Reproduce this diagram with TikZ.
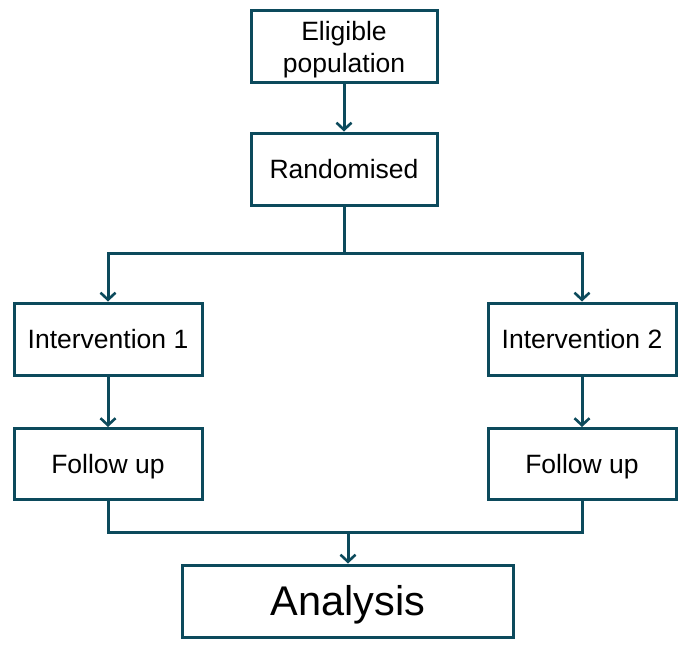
\documentclass[tikz,border=0pt]{standalone}
\usepackage{fontspec}
\setmainfont{Liberation Sans}
\usetikzlibrary{arrows.meta}
\definecolor{flowteal}{RGB}{12,74,92}
\tikzset{
    stagebox/.style={draw=flowteal, line width=3pt, fill=white, inner sep=0pt,
        minimum height=72pt, align=center, font=\fontsize{26.5}{32}\selectfont},
    oneline/.style={text height=19pt, text depth=0pt},
    link/.style={draw=flowteal, line width=3pt},
    arrowlink/.style={link, -{Straight Barb[length=7pt,width=15pt,line width=2.6pt]}}
}
\begin{document}
\begin{tikzpicture}[x=1pt,y=-1pt]
    \useasboundingbox (0,0) rectangle (694,651);

    % Top of the trial
    \node[stagebox, minimum width=186pt, text height=57.5pt, text depth=5.5pt] (elig) at (344,46) {Eligible\\population};
    \node[stagebox, oneline, minimum width=186pt] (rand) at (344,169) {Randomised};

    % Two arms
    \node[stagebox, oneline, minimum width=188pt] (int1) at (108,339) {Intervention 1};
    \node[stagebox, oneline, minimum width=188pt] (int2) at (582,339) {Intervention 2};
    \node[stagebox, oneline, minimum width=188pt, minimum height=71pt] (fu1) at (108,464) {Follow up};
    \node[stagebox, oneline, minimum width=188pt, minimum height=71pt] (fu2) at (582,464) {Follow up};

    % Result
    \node[stagebox, minimum width=331pt, font=\fontsize{41.5}{48}\selectfont,
        text height=29.7pt, text depth=0pt] (ana) at (348,601) {Analysis};

    % Connectors
    \coordinate (fork) at (344,253);
    \coordinate (join) at (348,532);
    \draw[arrowlink] (elig) -- (rand);
    \draw[link] (rand) -- (fork);
    \draw[arrowlink] (fork) -| (int1);
    \draw[arrowlink] (fork) -| (int2);
    \draw[arrowlink] (int1) -- (fu1);
    \draw[arrowlink] (int2) -- (fu2);
    \draw[link] (fu1) |- (join);
    \draw[link] (fu2) |- (join);
    \draw[arrowlink] (join) -- (ana);

\end{tikzpicture}
\end{document}
